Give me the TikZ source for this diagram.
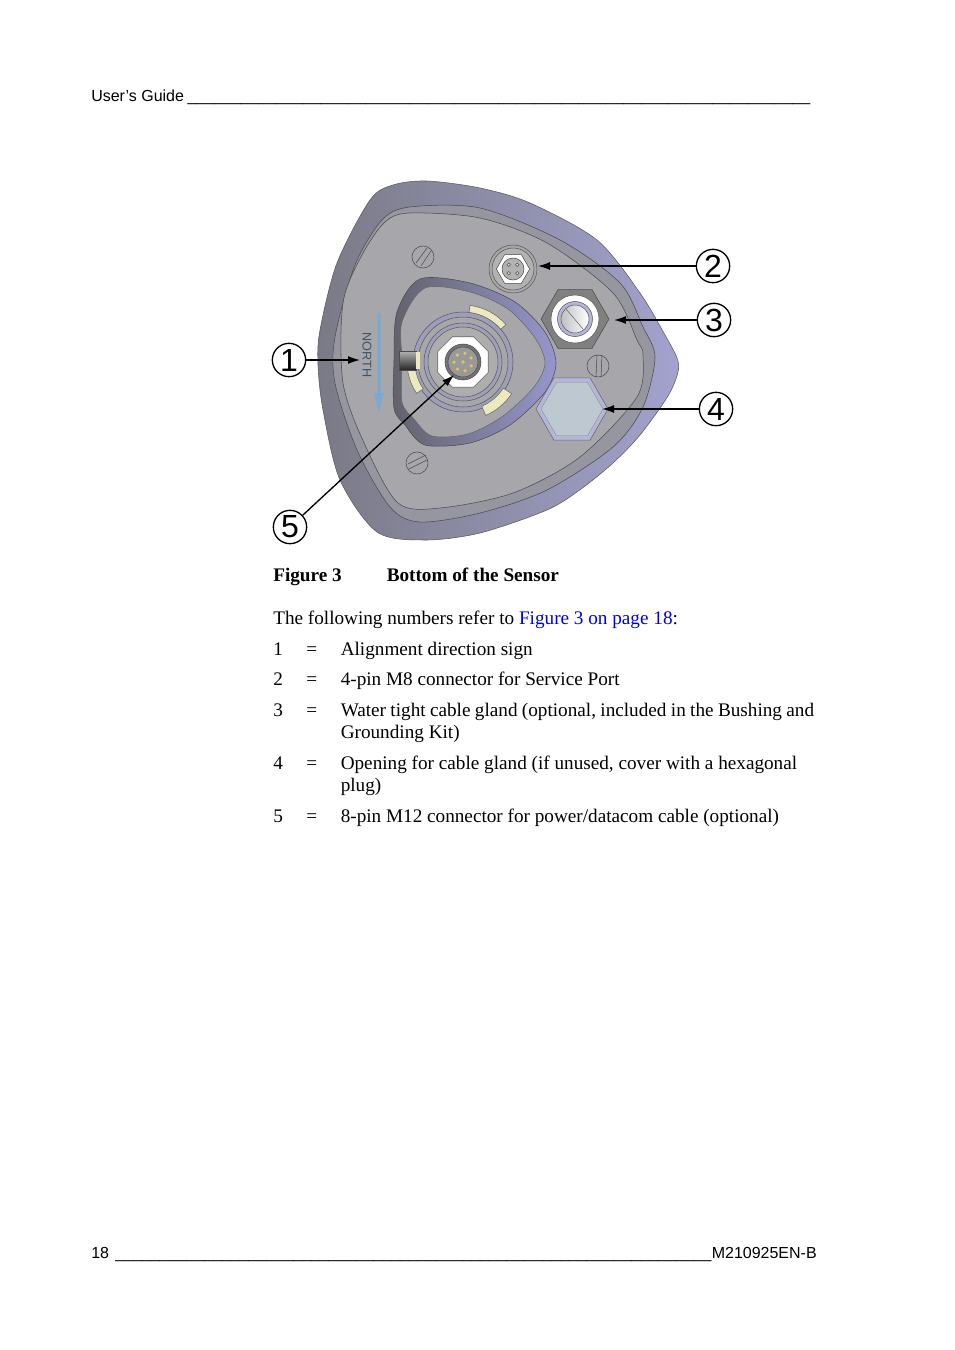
\documentclass[tikz,border=0pt]{standalone}
\usepackage{fontspec}
\setmainfont{Liberation Serif}
\setsansfont{Liberation Sans}
\usetikzlibrary{arrows.meta,shapes.geometric}
\definecolor{rimdark}{RGB}{122,122,134}
\definecolor{rimmid}{RGB}{138,138,152}
\definecolor{rimlight}{RGB}{162,162,206}
\definecolor{bevel}{RGB}{150,150,160}
\definecolor{face}{RGB}{167,166,170}
\definecolor{groove}{RGB}{98,98,108}
\definecolor{lavender}{RGB}{150,150,205}
\definecolor{brass}{RGB}{236,233,190}
\definecolor{pingold}{RGB}{226,196,90}
\definecolor{northblue}{RGB}{120,170,212}
\definecolor{linkblue}{RGB}{0,0,225}
\definecolor{plugfill}{RGB}{190,200,208}
\newcommand{\ulrun}[1]{\foreach \i in {1,...,#1}{\_}}
\tikzset{
    headtext/.style={anchor=base west,inner sep=0pt,font=\sffamily\fontsize{12}{14}\selectfont},
    bodytext/.style={anchor=base west,inner sep=0pt,font=\fontsize{14.4}{17}\selectfont},
    boldtext/.style={bodytext,font=\bfseries\fontsize{14.4}{17}\selectfont},
    callout/.style={draw,circle,line width=1pt,fill=white,minimum size=25pt,inner sep=0pt,font=\sffamily\fontsize{24}{24}\selectfont},
    pointer/.style={-{Latex[length=9pt,width=6pt]},line width=1pt},
    screw/.style={draw=black!70,thin,circle,minimum size=16.5pt,inner sep=0pt},
    ring/.style={draw=black!65,thin},
}
\begin{document}
\begin{tikzpicture}[x=0.75pt,y=-0.75pt]
    \useasboundingbox (0,0) rectangle (954,1350);
    % page head and foot
    \node[headtext] (guide) at (91,101) {User’s Guide\kern-0.7pt{} \ulrun{70}};
    \node[headtext] (pagenum) at (91,1258) {18\kern1.5pt{} \ulrun{67}};
    \node[headtext,anchor=base east] (docnum) at (817,1258) {M210925EN-B};
    % sensor body
    \draw[black!65,thin,left color=rimdark,middle color=rimmid,right color=rimlight]
        plot[smooth cycle,tension=0.5] coordinates {
            (427,181) (480,188) (530,203) (597,240) (640,293) (665,335) (677,358) (678,372)
            (668,396) (640,435) (613,463) (581,489) (547,510) (480,533) (425,540) (377,532) (340,480)
            (323,410) (318,365) (320,330) (337,263) (370,200) (393,185)};
    \draw[black!70,thin,fill=bevel]
        plot[smooth cycle,tension=0.5] coordinates {
            (410,207) (480,208) (560,240) (620,283) (643,327) (655,357) (643,407) (613,447)
            (547,490) (480,513) (420,522) (390,507) (357,450) (335,383) (335,337)
            (355,265) (382,220)};
    \draw[black!70,thin,fill=face]
        plot[smooth cycle,tension=0.5] coordinates {
            (410,213) (480,218) (547,243) (613,293) (637,340) (643,355) (637,397) (580,457)
            (513,493) (440,508) (398,503) (365,445) (343,383) (343,303) (362,255)
            (385,222)};
    % recessed panel
    \draw[black!70,thin,left color=groove,right color=lavender]
        plot[smooth cycle,tension=0.5] coordinates {
            (397,312) (420,279) (470,283) (515,302) (545,332) (556,363) (545,392)
            (510,425) (470,443) (425,445) (405,425) (394,408) (394,360)};
    \draw[black!60,thin,fill=face]
        plot[smooth cycle,tension=0.5] coordinates {
            (402,322) (425,288) (470,292) (508,309) (535,338) (545,363) (534,387)
            (503,416) (468,434) (432,436) (414,419) (402,402) (402,360)};
    % centre connector
    \draw[ring,fill=lavender!50!face] (463,362) circle[radius=50];
    \draw[ring,fill=face] (463,362) circle[radius=45];
    \draw[ring,fill=lavender!45!face] (463,362) circle[radius=39];
    \draw[ring,fill=black!32] (463,362) circle[radius=35];
    % brass segments
    \draw[black!60,thin,fill=brass] (463,362) ++(67:58) arc (67:33:58) -- ++(213:10) arc (33:67:48) -- cycle;
    \draw[black!60,thin,fill=brass] (463,362) ++(-83:57) arc (-83:-41:57) -- ++(139:7) arc (-41:-83:50) -- cycle;
    \draw[black!60,thin,fill=brass] (463,362) ++(146:56) arc (146:190:56) -- ++(10:8) arc (190:146:48) -- cycle;
    \node[draw=black!60,thin,fill=white,regular polygon,regular polygon sides=8,minimum size=41pt,inner sep=0pt] (mtwelveface) at (463,362) {};
    \draw[black!70,fill=black!55] (463,362) circle[radius=18];
    \draw[black!70,fill=black!40] (463,362) circle[radius=15];
    \fill[pingold] (463,362) circle[radius=1.8];
    \foreach \a in {0,51.4,...,309}
        \fill[pingold] (463,362) ++(\a+25:9) circle[radius=1.8];
    \draw[black!70,top color=black!30,bottom color=black!85] (399,351) rectangle (416,370);
    \fill[brass] (416,352) rectangle (420,369);
    % service port
    \draw[ring,fill=face] (513,269) circle[radius=24];
    \draw[ring,fill=black!30] (513,269) circle[radius=21];
    \node[draw=black!70,thin,fill=white,regular polygon,regular polygon sides=6,minimum size=25pt,inner sep=0pt] (mfourhex) at (513,269) {};
    \draw[black!70,fill=black!30] (513,269) circle[radius=11];
    \foreach \a in {45,135,225,315}
        \draw[black!70,fill=brass] (513,269) ++(\a:6) circle[radius=1.8];
    % cable gland
    \node[draw=black!70,thin,fill=black!50,regular polygon,regular polygon sides=6,minimum size=51pt,inner sep=0pt] (glandhex) at (575,319) {};
    \draw[ring,fill=white] (575,319) circle[radius=24];
    \draw[ring,fill=lavender!70!white] (575,319) circle[radius=17.5];
    \draw[ring,left color=black!25,right color=white] (575,319) circle[radius=14];
    \draw[black!60,thin] (566,309) -- (583,329);
    % hexagonal plug
    \node[draw=black!60,thin,fill=lavender!70!white,regular polygon,regular polygon sides=6,minimum size=54pt,inner sep=0pt] (plughex) at (572,409) {};
    \node[draw=black!50,very thin,fill=plugfill,regular polygon,regular polygon sides=6,minimum size=46.5pt,inner sep=0pt] (plugface) at (572,409) {};
    % screws
    \node[screw] (screwa) at (423,257) {};
    \node[screw] (screwb) at (598,366) {};
    \node[screw] (screwc) at (417,463) {};
    \draw[black!70,thin] (416,263) -- (427,248) (421,266) -- (431,251);
    \draw[black!70,thin] (596,377) -- (597,355) (601,377) -- (602,355);
    \draw[black!70,thin] (408,464) -- (426,455) (409,469) -- (427,460);
    % alignment sign
    \node[rotate=-90,inner sep=0pt,text=black!50!northblue,font=\sffamily\fontsize{9.5}{12}\selectfont] (northsign) at (367,355) {NORTH};
    \fill[northblue] (377.5,313) rectangle (380.5,393) (374,393) -- (384,393) -- (379,412) -- cycle;
    % callouts
    \coordinate (tipa) at (360,360);
    \coordinate (tipb) at (538,266);
    \coordinate (tipc) at (614,320);
    \coordinate (tipd) at (602,409);
    \coordinate (tipe) at (454,375);
    \node[callout] (calla) at (289,360) {1};
    \node[callout] (callb) at (713,266) {2};
    \node[callout] (callc) at (714,320) {3};
    \node[callout] (calld) at (716,409) {4};
    \node[callout] (calle) at (290,527) {5};
    \draw[pointer] (calla) -- (tipa);
    \draw[pointer] (callb) -- (tipb);
    \draw[pointer] (callc) -- (tipc);
    \draw[pointer] (calld) -- (tipd);
    \draw[pointer] (calle) -- (tipe);
    % caption and list
    \node[boldtext] (figlabel) at (273,581) {Figure 3};
    \node[boldtext] (figtitle) at (386.5,581) {Bottom of the Sensor};
    \node[bodytext] (intro) at (273,624) {The following numbers refer to \textcolor{linkblue}{Figure 3 on page 18}:};
    \node[bodytext] (numa) at (273,655) {1};
    \node[bodytext] (numb) at (273,685) {2};
    \node[bodytext] (numc) at (273,716) {3};
    \node[bodytext] (numd) at (273,769) {4};
    \node[bodytext] (nume) at (273,822) {5};
    \node[bodytext] (eqa) at (306,655) {=};
    \node[bodytext] (eqb) at (306,685) {=};
    \node[bodytext] (eqc) at (306,716) {=};
    \node[bodytext] (eqd) at (306,769) {=};
    \node[bodytext] (eqe) at (306,822) {=};
    \node[bodytext] (texta) at (340.5,655) {Alignment direction sign};
    \node[bodytext] (textb) at (340.5,685) {4-pin M8 connector for Service Port};
    \node[bodytext] (textc) at (340.5,716) {\spaceskip=3.27pt Water tight cable gland (optional, included in the Bushing and};
    \node[bodytext] (textcc) at (340.5,738) {Grounding Kit)};
    \node[bodytext] (textd) at (340.5,769) {Opening for cable gland (if unused, cover with a hexagonal};
    \node[bodytext] (textdd) at (340.5,791) {plug)};
    \node[bodytext] (texte) at (340.5,822) {8-pin M12 connector for power/datacom cable (optional)};
\end{tikzpicture}
\end{document}
